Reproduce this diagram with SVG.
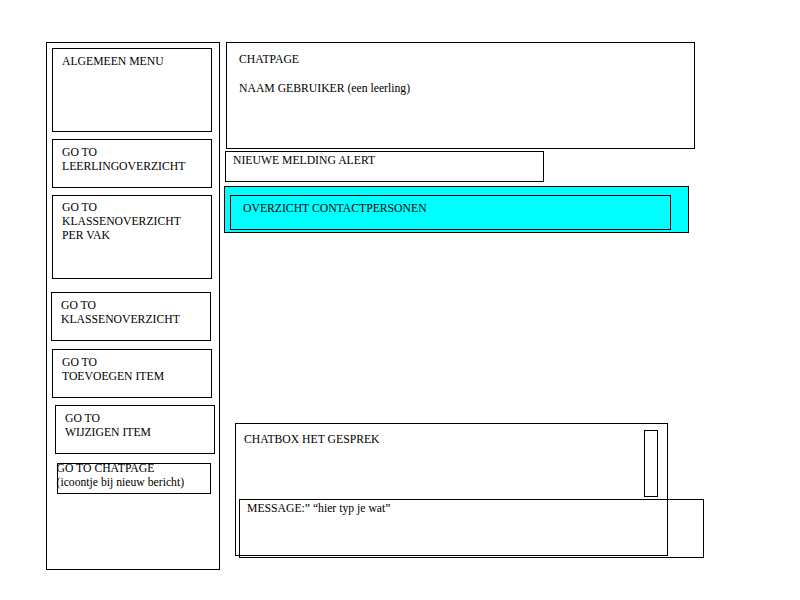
<svg xmlns="http://www.w3.org/2000/svg" width="800" height="600" viewBox="0 0 800 600">
<style>
rect{fill:none;stroke:#000;stroke-width:1}
.cy{fill:#00ffff}
text{font-family:"Liberation Serif","Times New Roman",serif;font-size:11.7px;fill:#000}
</style>
<rect x="0" y="0" width="800" height="600" style="fill:#fff;stroke:none"/>
<g id="menu-panel"><rect x="46.5" y="42.5" width="173" height="527"/></g>
<g id="algemeen-menu"><rect x="52.5" y="48.5" width="159" height="83"/><text x="62" y="65">ALGEMEEN MENU</text></g>
<g id="go-leerlingoverzicht"><rect x="52.5" y="139.5" width="159" height="48"/><text x="62" y="156">GO TO</text><text x="62" y="170">LEERLINGOVERZICHT</text></g>
<g id="go-klassenoverzicht-vak"><rect x="52.5" y="195.5" width="159" height="83"/><text x="62" y="211">GO TO</text><text x="62" y="225">KLASSENOVERZICHT</text><text x="62" y="239">PER VAK</text></g>
<g id="go-klassenoverzicht"><rect x="51.5" y="292.5" width="159" height="48"/><text x="61" y="308.5">GO TO</text><text x="61" y="322.5">KLASSENOVERZICHT</text></g>
<g id="go-toevoegen"><rect x="52.5" y="349.5" width="159" height="48"/><text x="62" y="365.5">GO TO</text><text x="62" y="379.5">TOEVOEGEN ITEM</text></g>
<g id="go-wijzigen"><rect x="55.5" y="405.5" width="159" height="48"/><text x="65" y="421.5">GO TO</text><text x="65" y="435.5">WIJZIGEN ITEM</text></g>
<g id="go-chatpage"><rect x="57.5" y="463.5" width="153" height="30"/><text x="56.5" y="471.5">GO TO CHATPAGE</text><text x="56.5" y="485.5">(icoontje bij nieuw bericht)</text></g>
<g id="chatpage"><rect x="226.5" y="42.5" width="468" height="106"/><text x="239" y="63">CHATPAGE</text><text x="239" y="92">NAAM GEBRUIKER (een leerling)</text></g>
<g id="nieuwe-melding"><rect x="225.5" y="151.5" width="318" height="30"/><text x="233" y="164">NIEUWE MELDING ALERT</text></g>
<g id="contactpersonen"><rect class="cy" x="224.5" y="186.5" width="464" height="46"/><rect x="230.5" y="195.5" width="440" height="34"/><text x="243" y="211.5">OVERZICHT CONTACTPERSONEN</text></g>
<g id="chatbox"><rect x="235.5" y="423.5" width="432" height="132"/><rect x="644.5" y="430.5" width="13" height="66"/><text x="244" y="442.5">CHATBOX HET GESPREK</text></g>
<g id="message"><rect x="239.5" y="499.5" width="464" height="58"/><text x="247" y="512">MESSAGE:” “hier typ je wat”</text></g>
<g id="connectors"></g>
</svg>
